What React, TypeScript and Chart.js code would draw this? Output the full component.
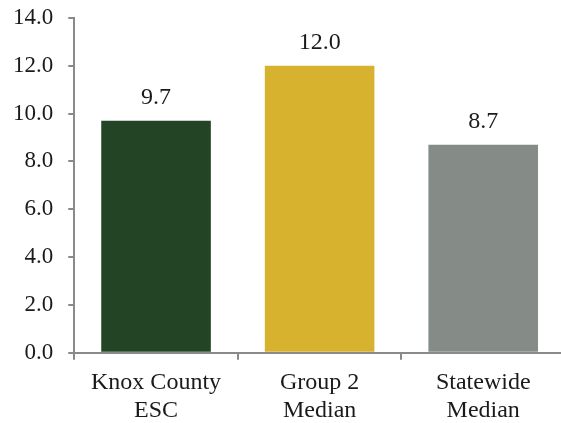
import React, { useEffect, useRef } from "react";
import { Chart, registerables } from "chart.js";

Chart.register(...registerables);

const categories: string[][] = [["Knox County", "ESC"], ["Group 2", "Median"], ["Statewide", "Median"]];
const values: number[] = [9.7, 12.0, 8.7];
const barColors: string[] = ["#234526", "#D7B22F", "#858C87"];
const yTicks = { min: 0, max: 14, step: 2 };

const FONT = "'Liberation Serif', 'Times New Roman', serif";

const valueLabels = {
  id: "valueLabels",
  afterDatasetsDraw(chart: any) {
    const ctx = chart.ctx;
    const meta = chart.getDatasetMeta(0);
    ctx.save();
    ctx.font = `24px ${FONT}`;
    ctx.fillStyle = "#1a1a1a";
    ctx.textAlign = "center";
    ctx.textBaseline = "alphabetic";
    meta.data.forEach((el: any, i: number) => {
      ctx.fillText(values[i].toFixed(1), el.x, el.y - 17);
    });
    ctx.restore();
  },
};

export default function App() {
  const ref = useRef<HTMLCanvasElement>(null);
  useEffect(() => {
    if (!ref.current) return;
    const chart = new Chart(ref.current, {
      type: "bar",
      data: {
        labels: categories,
        datasets: [
          {
            data: values,
            backgroundColor: barColors,
            borderWidth: 0,
            categoryPercentage: 1,
            barPercentage: 0.67,
          },
        ],
      },
      options: {
        animation: false,
        responsive: false,
        layout: { padding: { top: 0, left: -2, right: 1, bottom: -10 } },
        plugins: { legend: { display: false }, tooltip: { enabled: false } },
        scales: {
          x: {
            grid: { drawOnChartArea: false, offset: true, tickLength: 7, color: "#8a8a8a", lineWidth: 2 },
            border: { color: "#8a8a8a", width: 2 },
            ticks: { font: { family: FONT, size: 24, lineHeight: 1.17 }, color: "#1a1a1a", padding: 9, maxRotation: 0 },
          },
          y: {
            min: yTicks.min,
            max: yTicks.max,
            grid: { drawOnChartArea: false, tickLength: 6, color: "#8a8a8a", lineWidth: 2 },
            border: { color: "#8a8a8a", width: 2 },
            ticks: {
              stepSize: yTicks.step,
              font: { family: FONT, size: 23 },
              color: "#1a1a1a",
              padding: 15,
              callback: (v: any) => Number(v).toFixed(1),
            },
          },
        },
      },
      plugins: [valueLabels],
    });
    return () => chart.destroy();
  }, []);
  return (
    <div style={{ position: "fixed", left: 0, top: 0, width: 561, height: 423, overflow: "hidden", background: "#fff" }}>
      <canvas ref={ref} width={566} height={435} style={{ display: "block", marginTop: -11 }} />
    </div>
  );
}
